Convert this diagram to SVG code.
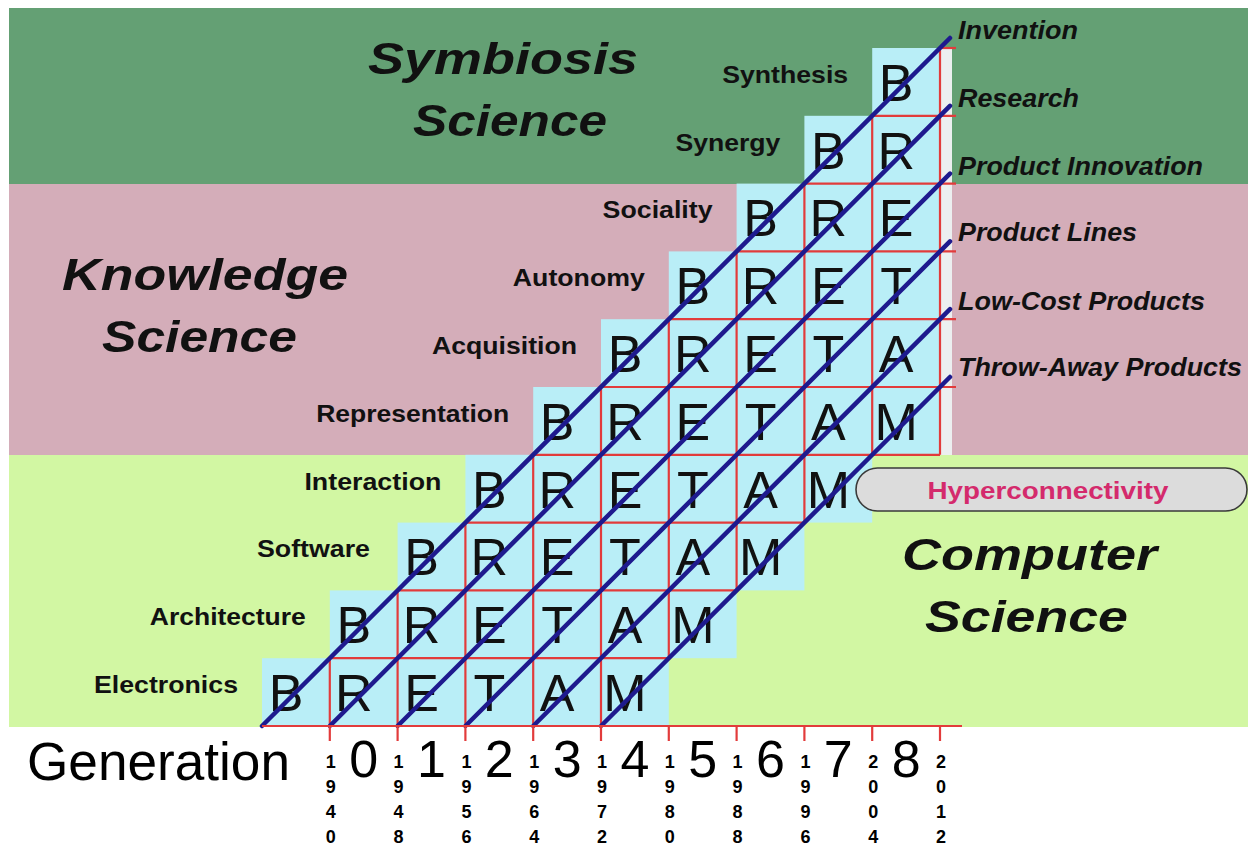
<svg xmlns="http://www.w3.org/2000/svg" width="1250" height="845" viewBox="0 0 1250 845">
<style>
.bg{stroke:none}
.cell{fill:#b9eef7;stroke:none}
.red{stroke:#e23b3b;stroke-width:2.2;fill:none}
.blue{stroke:#1e1a8e;stroke-width:4.5;stroke-linecap:round;fill:none}
.big{font-family:"Liberation Sans",Arial,sans-serif;font-size:52px;fill:#111;text-anchor:middle}
.rl{font-family:"Liberation Sans",Arial,sans-serif;font-size:24px;font-weight:bold;fill:#111;text-anchor:end}
.ph{font-family:"Liberation Sans",Arial,sans-serif;font-size:25.5px;font-weight:bold;font-style:italic;fill:#111}
.ttl{font-family:"Liberation Sans",Arial,sans-serif;font-size:45px;font-weight:bold;font-style:italic;fill:#111}
.gen{font-family:"Liberation Sans",Arial,sans-serif;font-size:52px;fill:#000;text-anchor:middle}
.yr{font-family:"Liberation Sans",Arial,sans-serif;font-size:18px;font-weight:bold;fill:#000;text-anchor:middle}
</style>
<g id="backgrounds">
<rect class="bg" x="9" y="8" width="1239" height="176" fill="#64a074"/>
<rect class="bg" x="9" y="184" width="1239" height="271" fill="#d4adb9"/>
<rect class="bg" x="9" y="455" width="1239" height="272" fill="#d2f7a3"/>
<rect class="bg" x="940" y="48" width="12" height="407" fill="#eceff0"/>
</g>
<g id="titles">
<text class="ttl" x="368" y="74" textLength="270" lengthAdjust="spacingAndGlyphs">Symbiosis</text>
<text class="ttl" x="413" y="136" textLength="194" lengthAdjust="spacingAndGlyphs">Science</text>
<text class="ttl" x="62" y="290" textLength="286" lengthAdjust="spacingAndGlyphs">Knowledge</text>
<text class="ttl" x="102" y="352" textLength="195" lengthAdjust="spacingAndGlyphs">Science</text>
<text class="ttl" x="902" y="570" textLength="255" lengthAdjust="spacingAndGlyphs">Computer</text>
<text class="ttl" x="925" y="632" textLength="203" lengthAdjust="spacingAndGlyphs">Science</text>
</g>
<g id="cells">
<rect class="cell" x="262" y="658.2" width="406.8" height="67.8"/>
<rect class="cell" x="329.8" y="590.4" width="406.8" height="67.8"/>
<rect class="cell" x="397.6" y="522.6" width="406.8" height="67.8"/>
<rect class="cell" x="465.4" y="454.8" width="406.8" height="67.8"/>
<rect class="cell" x="533.2" y="387" width="406.8" height="67.8"/>
<rect class="cell" x="601" y="319.2" width="339" height="67.8"/>
<rect class="cell" x="668.8" y="251.4" width="271.2" height="67.8"/>
<rect class="cell" x="736.6" y="183.6" width="203.4" height="67.8"/>
<rect class="cell" x="804.4" y="115.8" width="135.6" height="67.8"/>
<rect class="cell" x="872.2" y="48" width="67.8" height="67.8"/>
</g>
<g id="grid">
<line class="red" x1="940" y1="48" x2="956" y2="48"/>
<line class="red" x1="872.2" y1="115.8" x2="956" y2="115.8"/>
<line class="red" x1="804.4" y1="183.6" x2="956" y2="183.6"/>
<line class="red" x1="736.6" y1="251.4" x2="956" y2="251.4"/>
<line class="red" x1="668.8" y1="319.2" x2="956" y2="319.2"/>
<line class="red" x1="601" y1="387" x2="956" y2="387"/>
<line class="red" x1="533.2" y1="454.8" x2="940" y2="454.8"/>
<line class="red" x1="465.4" y1="522.6" x2="804.4" y2="522.6"/>
<line class="red" x1="397.6" y1="590.4" x2="736.6" y2="590.4"/>
<line class="red" x1="329.8" y1="658.2" x2="668.8" y2="658.2"/>
<line class="red" x1="329.8" y1="658.2" x2="329.8" y2="726"/>
<line class="red" x1="397.6" y1="590.4" x2="397.6" y2="726"/>
<line class="red" x1="465.4" y1="522.6" x2="465.4" y2="726"/>
<line class="red" x1="533.2" y1="454.8" x2="533.2" y2="726"/>
<line class="red" x1="601" y1="387" x2="601" y2="726"/>
<line class="red" x1="668.8" y1="319.2" x2="668.8" y2="658.2"/>
<line class="red" x1="736.6" y1="251.4" x2="736.6" y2="590.4"/>
<line class="red" x1="804.4" y1="183.6" x2="804.4" y2="522.6"/>
<line class="red" x1="872.2" y1="115.8" x2="872.2" y2="454.8"/>
<line class="red" x1="940" y1="48" x2="940" y2="454.8"/>
</g>
<g id="letters">
<text class="big" x="286" y="711">B</text><text class="big" x="353.8" y="711">R</text><text class="big" x="421.6" y="711">E</text><text class="big" x="489.4" y="711">T</text><text class="big" x="557.2" y="711">A</text><text class="big" x="625" y="711">M</text>
<text class="big" x="353.8" y="643.2">B</text><text class="big" x="421.6" y="643.2">R</text><text class="big" x="489.4" y="643.2">E</text><text class="big" x="557.2" y="643.2">T</text><text class="big" x="625" y="643.2">A</text><text class="big" x="692.8" y="643.2">M</text>
<text class="big" x="421.6" y="575.4">B</text><text class="big" x="489.4" y="575.4">R</text><text class="big" x="557.2" y="575.4">E</text><text class="big" x="625" y="575.4">T</text><text class="big" x="692.8" y="575.4">A</text><text class="big" x="760.6" y="575.4">M</text>
<text class="big" x="489.4" y="507.6">B</text><text class="big" x="557.2" y="507.6">R</text><text class="big" x="625" y="507.6">E</text><text class="big" x="692.8" y="507.6">T</text><text class="big" x="760.6" y="507.6">A</text><text class="big" x="828.4" y="507.6">M</text>
<text class="big" x="557.2" y="439.8">B</text><text class="big" x="625" y="439.8">R</text><text class="big" x="692.8" y="439.8">E</text><text class="big" x="760.6" y="439.8">T</text><text class="big" x="828.4" y="439.8">A</text><text class="big" x="896.2" y="439.8">M</text>
<text class="big" x="625" y="372">B</text><text class="big" x="692.8" y="372">R</text><text class="big" x="760.6" y="372">E</text><text class="big" x="828.4" y="372">T</text><text class="big" x="896.2" y="372">A</text>
<text class="big" x="692.8" y="304.2">B</text><text class="big" x="760.6" y="304.2">R</text><text class="big" x="828.4" y="304.2">E</text><text class="big" x="896.2" y="304.2">T</text>
<text class="big" x="760.6" y="236.4">B</text><text class="big" x="828.4" y="236.4">R</text><text class="big" x="896.2" y="236.4">E</text>
<text class="big" x="828.4" y="168.6">B</text><text class="big" x="896.2" y="168.6">R</text>
<text class="big" x="896.2" y="100.8">B</text>
</g>
<g id="row-labels">
<text class="rl" x="238" y="693" textLength="144" lengthAdjust="spacingAndGlyphs">Electronics</text>
<text class="rl" x="305.8" y="625.2" textLength="156" lengthAdjust="spacingAndGlyphs">Architecture</text>
<text class="rl" x="370" y="557.4" textLength="113" lengthAdjust="spacingAndGlyphs">Software</text>
<text class="rl" x="441.4" y="489.6" textLength="137" lengthAdjust="spacingAndGlyphs">Interaction</text>
<text class="rl" x="509.2" y="421.8" textLength="193" lengthAdjust="spacingAndGlyphs">Representation</text>
<text class="rl" x="577" y="354" textLength="145" lengthAdjust="spacingAndGlyphs">Acquisition</text>
<text class="rl" x="644.8" y="286.2" textLength="132" lengthAdjust="spacingAndGlyphs">Autonomy</text>
<text class="rl" x="712.6" y="218.4" textLength="110" lengthAdjust="spacingAndGlyphs">Sociality</text>
<text class="rl" x="780.4" y="150.6" textLength="105" lengthAdjust="spacingAndGlyphs">Synergy</text>
<text class="rl" x="848.2" y="82.8" textLength="126" lengthAdjust="spacingAndGlyphs">Synthesis</text>
</g>
<g id="connectors">
<line class="blue" x1="262" y1="726" x2="950" y2="38"/>
<line class="blue" x1="329.8" y1="726" x2="950" y2="105.8"/>
<line class="blue" x1="397.6" y1="726" x2="950" y2="173.6"/>
<line class="blue" x1="465.4" y1="726" x2="950" y2="241.4"/>
<line class="blue" x1="533.2" y1="726" x2="950" y2="309.2"/>
<line class="blue" x1="601" y1="726" x2="950" y2="377"/>
</g>
<g id="phase-labels">
<text class="ph" x="958" y="39" textLength="120" lengthAdjust="spacingAndGlyphs">Invention</text>
<text class="ph" x="958" y="107" textLength="121" lengthAdjust="spacingAndGlyphs">Research</text>
<text class="ph" x="958" y="175" textLength="245" lengthAdjust="spacingAndGlyphs">Product Innovation</text>
<text class="ph" x="958" y="241" textLength="179" lengthAdjust="spacingAndGlyphs">Product Lines</text>
<text class="ph" x="958" y="310" textLength="247" lengthAdjust="spacingAndGlyphs">Low-Cost Products</text>
<text class="ph" x="958" y="376" textLength="284" lengthAdjust="spacingAndGlyphs">Throw-Away Products</text>
</g>
<g id="hyperconnectivity">
<rect x="856" y="468" width="391" height="43" rx="21.5" fill="#dcdcdc" stroke="#3a3a3a" stroke-width="1.6"/>
<text x="1048" y="499" font-family="Liberation Sans, Arial, sans-serif" font-size="24" font-weight="bold" fill="#d42a6c" text-anchor="middle" textLength="241" lengthAdjust="spacingAndGlyphs">Hyperconnectivity</text>
</g>
<g id="axis">
<line class="red" x1="262" y1="726" x2="962" y2="726" stroke-width="2.6"/>
<line class="red" x1="329.8" y1="726" x2="329.8" y2="741"/>
<line class="red" x1="397.6" y1="726" x2="397.6" y2="741"/>
<line class="red" x1="465.4" y1="726" x2="465.4" y2="741"/>
<line class="red" x1="533.2" y1="726" x2="533.2" y2="741"/>
<line class="red" x1="601" y1="726" x2="601" y2="741"/>
<line class="red" x1="668.8" y1="726" x2="668.8" y2="741"/>
<line class="red" x1="736.6" y1="726" x2="736.6" y2="741"/>
<line class="red" x1="804.4" y1="726" x2="804.4" y2="741"/>
<line class="red" x1="872.2" y1="726" x2="872.2" y2="741"/>
<line class="red" x1="940" y1="726" x2="940" y2="741"/>
<text x="27" y="780" font-family="Liberation Sans, Arial, sans-serif" font-size="54" fill="#000" textLength="263" lengthAdjust="spacingAndGlyphs">Generation</text>
<text class="gen" x="363.7" y="777">0</text>
<text class="gen" x="431.5" y="777">1</text>
<text class="gen" x="499.3" y="777">2</text>
<text class="gen" x="567.1" y="777">3</text>
<text class="gen" x="634.9" y="777">4</text>
<text class="gen" x="702.7" y="777">5</text>
<text class="gen" x="770.5" y="777">6</text>
<text class="gen" x="838.3" y="777">7</text>
<text class="gen" x="906.1" y="777">8</text>
<g id="years">
<text class="yr" x="330.8" y="768">1</text><text class="yr" x="330.8" y="793">9</text><text class="yr" x="330.8" y="818">4</text><text class="yr" x="330.8" y="843">0</text>
<text class="yr" x="398.6" y="768">1</text><text class="yr" x="398.6" y="793">9</text><text class="yr" x="398.6" y="818">4</text><text class="yr" x="398.6" y="843">8</text>
<text class="yr" x="466.4" y="768">1</text><text class="yr" x="466.4" y="793">9</text><text class="yr" x="466.4" y="818">5</text><text class="yr" x="466.4" y="843">6</text>
<text class="yr" x="534.2" y="768">1</text><text class="yr" x="534.2" y="793">9</text><text class="yr" x="534.2" y="818">6</text><text class="yr" x="534.2" y="843">4</text>
<text class="yr" x="602" y="768">1</text><text class="yr" x="602" y="793">9</text><text class="yr" x="602" y="818">7</text><text class="yr" x="602" y="843">2</text>
<text class="yr" x="669.8" y="768">1</text><text class="yr" x="669.8" y="793">9</text><text class="yr" x="669.8" y="818">8</text><text class="yr" x="669.8" y="843">0</text>
<text class="yr" x="737.6" y="768">1</text><text class="yr" x="737.6" y="793">9</text><text class="yr" x="737.6" y="818">8</text><text class="yr" x="737.6" y="843">8</text>
<text class="yr" x="805.4" y="768">1</text><text class="yr" x="805.4" y="793">9</text><text class="yr" x="805.4" y="818">9</text><text class="yr" x="805.4" y="843">6</text>
<text class="yr" x="873.2" y="768">2</text><text class="yr" x="873.2" y="793">0</text><text class="yr" x="873.2" y="818">0</text><text class="yr" x="873.2" y="843">4</text>
<text class="yr" x="941" y="768">2</text><text class="yr" x="941" y="793">0</text><text class="yr" x="941" y="818">1</text><text class="yr" x="941" y="843">2</text>
</g>
</g>
</svg>
